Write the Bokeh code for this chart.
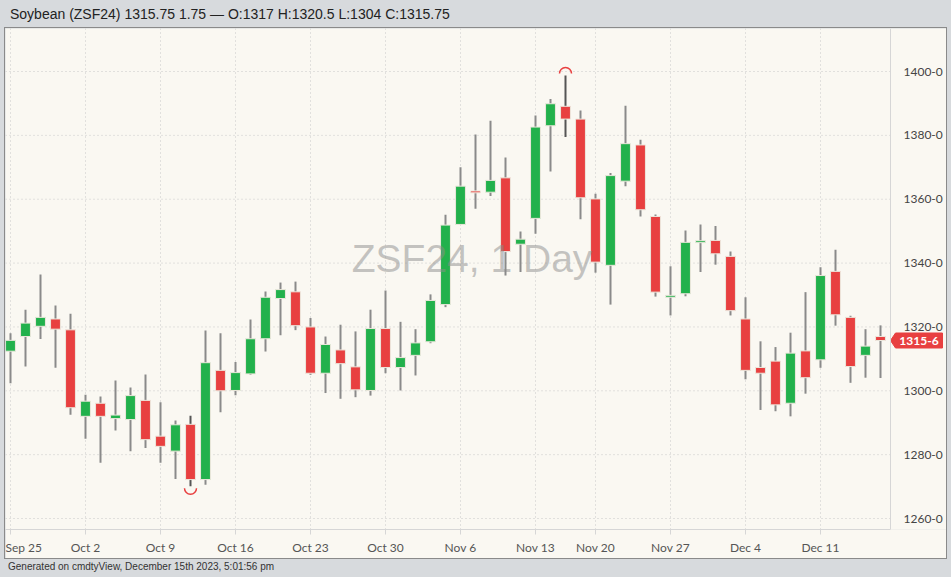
import numpy as np
from bokeh.plotting import figure
from bokeh.models import (ColumnDataSource, FixedTicker, Label, Range1d, Div, Span)
from bokeh.layouts import column
from bokeh.embed import file_html
from bokeh.resources import INLINE
from bokeh.core.properties import value

# ---------------- data ----------------
opens = [1312.4, 1317.0, 1320.2, 1322.5, 1319.1, 1292.0, 1296.1, 1291.3, 1291.0, 1297.0,
         1285.8, 1281.1, 1289.5, 1272.2, 1306.4, 1300.1, 1305.3, 1316.3, 1328.9, 1331.0,
         1320.0, 1305.5, 1312.8, 1307.5, 1300.1, 1319.5, 1307.3, 1311.1, 1315.35, 1327.0,
         1352.1, 1362.4, 1362.2, 1366.7, 1345.9, 1354.0, 1383.0, 1389.1, 1385.1, 1360.1,
         1339.3, 1365.65, 1377.0, 1354.6, 1329.5, 1330.4, 1346.5, 1347.1, 1342.1, 1322.5,
         1307.3, 1309.3, 1296.1, 1312.5, 1309.7, 1337.4, 1323.0, 1311.1, 1317.0]
highs = [1318.0, 1325.4, 1336.4, 1326.7, 1324.1, 1298.8, 1298.2, 1303.2, 1301.0, 1305.1,
         1296.4, 1290.7, 1292.2, 1318.9, 1318.0, 1309.0, 1322.3, 1331.1, 1333.9, 1334.2,
         1322.8, 1317.0, 1320.7, 1318.6, 1325.4, 1331.4, 1321.6, 1319.3, 1330.2, 1355.1,
         1370.0, 1380.3, 1384.6, 1373.1, 1349.9, 1386.2, 1391.4, 1398.75, 1387.8, 1361.7,
         1368.2, 1389.3, 1378.6, 1355.2, 1339.0, 1350.2, 1352.1, 1351.6, 1343.6, 1329.3,
         1315.5, 1313.7, 1318.2, 1330.9, 1338.7, 1344.2, 1323.5, 1319.3, 1320.5]
lows = [1302.4, 1307.6, 1316.2, 1307.2, 1292.5, 1285.0, 1277.5, 1287.6, 1281.1, 1282.1,
        1277.5, 1272.4, 1270.1, 1270.6, 1293.3, 1298.6, 1305.0, 1312.3, 1317.4, 1319.0,
        1305.0, 1299.3, 1297.5, 1298.0, 1298.5, 1305.5, 1300.1, 1304.8, 1314.9, 1326.2,
        1352.0, 1357.0, 1361.0, 1336.1, 1337.2, 1349.2, 1368.7, 1379.5, 1353.7, 1337.0,
        1327.0, 1364.1, 1354.6, 1329.5, 1323.6, 1329.6, 1337.2, 1339.5, 1323.6, 1303.6,
        1294.0, 1293.6, 1292.0, 1299.1, 1307.2, 1320.4, 1302.5, 1304.1, 1304.0]
closes = [1315.8, 1321.2, 1323.0, 1319.3, 1294.7, 1296.75, 1292.0, 1292.4, 1298.5, 1284.7,
          1282.6, 1289.35, 1272.2, 1308.8, 1300.0, 1305.7, 1316.3, 1329.3, 1331.7, 1320.4,
          1305.5, 1314.5, 1308.5, 1300.3, 1319.5, 1307.3, 1310.4, 1315.0, 1328.3, 1351.9,
          1364.1, 1362.2, 1365.9, 1343.6, 1347.5, 1382.6, 1389.9, 1385.1, 1360.45, 1340.3,
          1367.4, 1377.4, 1356.7, 1330.9, 1329.7, 1346.5, 1346.9, 1342.9, 1325.1, 1306.4,
          1305.5, 1295.6, 1311.8, 1304.1, 1336.1, 1323.8, 1307.6, 1314.0, 1315.75]

week_tick_idx = [0, 5, 10, 15, 20, 25, 30, 35, 39, 44, 49, 54]
week_tick_labels = ["Sep 25", "Oct 2", "Oct 9", "Oct 16", "Oct 23", "Oct 30",
                    "Nov 6", "Nov 13", "Nov 20", "Nov 27", "Dec 4", "Dec 11"]
price_ticks = [1260, 1280, 1300, 1320, 1340, 1360, 1380, 1400]
price_tick_labels = ["1260-0", "1280-0", "1300-0", "1320-0", "1340-0", "1360-0",
                     "1380-0", "1400-0"]

title_text = "Soybean (ZSF24) 1315.75 1.75 \u2014 O:1317 H:1320.5 L:1304 C:1315.75"
footer_text = "Generated on cmdtyView, December 15th 2023, 5:01:56 pm"
watermark_text = "ZSF24, 1 Day"
last_price_label = "1315-6"

# ---------------- styles ----------------
GREEN = "#22b14c"
RED = "#e84040"
CREAM = "#faf8f2"
PAGE_BG = "#d7dadd"
WICK = "#8a8a8a"
WICK_DARK = "#555555"
AXIS_LINE = "#d6d6d6"

n = len(opens)
idx = np.arange(n)
o = np.array(opens); h = np.array(highs); l = np.array(lows); c = np.array(closes)
up = c >= o
mid = (o + c) / 2
half = np.maximum(np.abs(c - o) / 2, 0.3)
top = mid + half
bot = mid - half

i_hi = int(np.argmax(h))
i_lo = int(np.argmin(l))
wick_colors = [WICK_DARK if k in (i_hi, i_lo) else WICK for k in range(n)]

src = ColumnDataSource(dict(x=idx, high=h, low=l, top=top, bottom=bot,
                            color=[GREEN if u else RED for u in up],
                            wick=wick_colors))

px_per_bar = 15.0
fig_w = 941
plot_w = 885                      # width of the price area (left of the price scale)
x0 = -5.0 / px_per_bar
xe = x0 + plot_w / px_per_bar     # right edge of the price area
y0, y1 = 1256.56, 1413.47
px_per_unit = 501 / (y1 - y0)

p = figure(width=fig_w, height=530, output_backend="svg", toolbar_location=None,
           x_range=Range1d(x0, x0 + fig_w / px_per_bar),
           y_range=Range1d(y0, y1),
           y_axis_location=None,
           min_border_left=0, min_border_top=0, min_border_right=0, min_border_bottom=29,
           margin=(0, 0, 0, 5))
p.styles = {"outline": "1px solid #8a8a8a"}
p.background_fill_color = CREAM
p.border_fill_color = CREAM
p.outline_line_color = None

# horizontal grid (dotted), only over the price area
p.segment(x0=[x0] * len(price_ticks), y0=price_ticks, x1=[xe] * len(price_ticks),
          y1=price_ticks, line_color="#c9c9c9", line_dash="1 3", line_width=1)

# candles
p.segment(x0="x", y0="low", x1="x", y1="high", source=src, line_color="wick", line_width=2)
p.vbar(x="x", top="top", bottom="bottom", width=0.66, source=src,
       fill_color="color", line_color="#ece7dc", line_width=1)

# extreme markers
p.arc(x=[i_hi], y=[h[i_hi] + 2 / px_per_unit], radius=6, radius_units="screen",
      start_angle=0, end_angle=np.pi, line_color=RED, line_width=1.5)
p.arc(x=[i_lo], y=[l[i_lo] - 2 / px_per_unit], radius=6, radius_units="screen",
      start_angle=np.pi, end_angle=2 * np.pi, line_color=RED, line_width=1.5)

# x axis
xt = FixedTicker(ticks=week_tick_idx)
p.xaxis.ticker = xt
p.xaxis.bounds = (x0, xe)
p.xaxis.major_label_overrides = {k: lab for k, lab in zip(week_tick_idx, week_tick_labels)}
p.xaxis.axis_line_color = AXIS_LINE
p.xaxis.major_tick_line_color = AXIS_LINE
p.xaxis.major_tick_out = 5
p.xaxis.major_tick_in = 0
p.xaxis.minor_tick_line_color = None
p.xaxis.major_label_standoff = 5
p.xaxis.major_label_text_font = "Lato"
p.xaxis.major_label_text_font_size = "12px"
p.xaxis.major_label_text_color = "#555555"

p.xgrid.ticker = xt
p.xgrid.grid_line_color = "#c9c9c9"
p.xgrid.grid_line_dash = "1 3"
p.ygrid.visible = False

# price scale on the right: separator line + tick labels
p.add_layout(Span(location=xe, dimension="height", line_color=AXIS_LINE, line_width=1))
p.text(x=[xe + 13 / px_per_bar] * len(price_ticks), y=price_ticks, text=price_tick_labels,
       text_align="left", text_baseline="middle", text_font=value("Lato"),
       text_font_size="12px", text_color="#444444")

# watermark
p.add_layout(Label(x=30.77, y=1341.4, text=watermark_text, text_align="center",
                   text_baseline="alphabetic", text_font="Liberation Sans",
                   text_font_size="39px", text_color="#8c8c8c", text_alpha=0.5))

# last price tag
last = c[-1]
hh = 7.5 / px_per_unit
tag_x = [xe, xe + 5 / px_per_bar, xe + 52 / px_per_bar, xe + 52 / px_per_bar, xe + 5 / px_per_bar]
tag_y = [last, last + hh, last + hh, last - hh, last - hh]
p.patch(x=tag_x, y=tag_y, fill_color=RED, line_color=RED)
p.text(x=[xe + 28.5 / px_per_bar], y=[last], text=[last_price_label],
       text_align="center", text_baseline="middle", text_font=value("Lato"),
       text_font_style="bold", text_font_size="12px", text_color="white")

header = Div(text='<div style="font-family:\'Liberation Sans\',Arial;font-size:14px;'
                  'line-height:28px;color:#222;padding-left:10px;white-space:nowrap">'
                  + title_text + '</div>', width=951, height=28, margin=(0, 0, 0, 0))
footer = Div(text='<div style="font-family:\'Liberation Sans\',Arial;font-size:10px;'
                  'line-height:18px;color:#333;padding-left:8px;white-space:nowrap">'
                  + footer_text + '</div>', width=951, height=19, margin=(0, 0, 0, 0))

layout = column(header, p, footer, spacing=0)
html = file_html(layout, INLINE)
html = html.replace("</head>", "<style>body{background:%s;}</style></head>" % PAGE_BG, 1)
open("out.html", "w").write(html)
